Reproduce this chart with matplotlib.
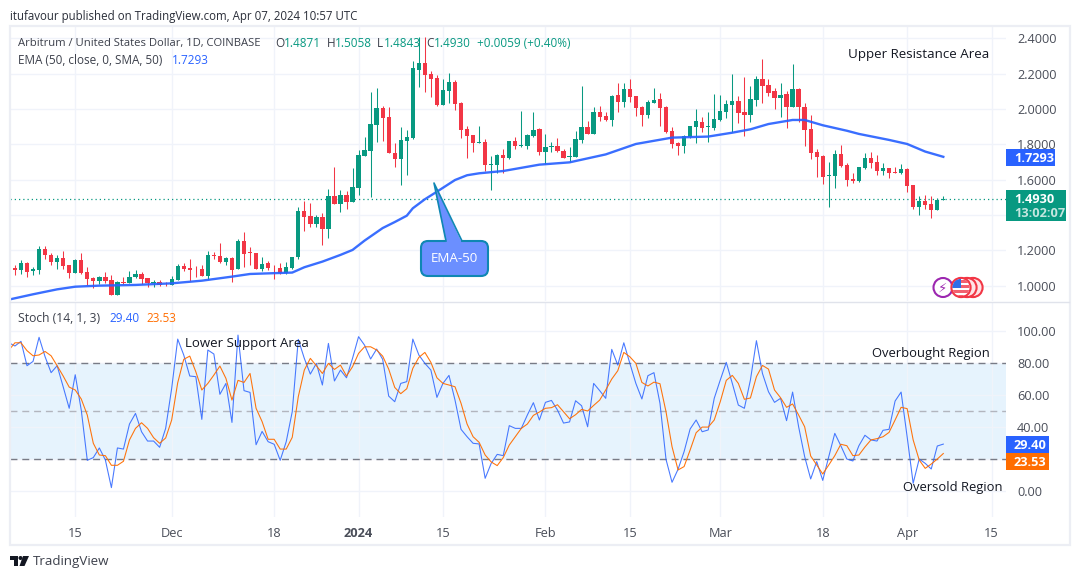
import numpy as np
import pandas as pd
import matplotlib
matplotlib.use("Agg")
import matplotlib.pyplot as plt
import matplotlib.dates as mdates
from matplotlib.patches import Circle, FancyBboxPatch, Polygon, Rectangle

plt.rcParams['font.family'] = ['Open Sans', 'DejaVu Sans']

dates = pd.date_range('2023-11-04', '2024-04-07', freq='D')

opens = [1.055,1.100,1.089,1.130,1.085,1.089,1.208,1.174,1.134,1.157,1.115,1.070,1.143,1.077,1.043,1.026,1.049,1.032,.949,1.019,1.015,1.049,1.066,1.042,1.013,1.021,1.011,
1.006,1.034,1.111,1.100,1.096,1.094,1.055,1.174,1.168,1.134,1.157,1.094,1.253,1.189,1.185,1.094,1.128,1.108,1.100,1.070,1.100,1.160,1.423,1.394,1.349,1.387,1.321,1.508,1.462,1.511,1.475,
1.555,1.736,1.764,1.911,2.006,1.955,1.749,1.719,1.821,1.836,2.221,2.260,2.198,2.176,2.025,2.104,2.153,2.034,1.887,1.853,1.810,1.814,1.685,1.685,1.740,1.723,1.819,1.791,1.791,1.847,1.887,
1.757,1.785,1.791,1.764,1.730,1.728,1.825,1.898,1.859,1.983,1.960,1.938,2.079,2.040,2.113,2.074,2.013,1.966,2.036,2.057,2.013,1.876,1.808,1.791,1.840,1.898,1.927,1.900,1.892,
1.938,1.983,2.023,2.045,1.983,1.966,2.051,2.170,2.136,2.102,2.062,2.085,2.011,2.113,2.011,1.887,1.757,1.734,1.621,1.621,1.745,1.683,1.604,1.591,1.666,1.723,1.700,1.649,1.666,1.643,1.638,
1.660,1.570,1.445,1.479,1.462,1.428,1.4871]
highs = [1.108,1.115,1.143,1.136,1.108,1.225,1.225,1.187,1.172,1.196,1.115,1.149,1.183,1.104,1.051,1.055,1.077,1.058,1.026,1.051,1.085,1.087,1.075,1.042,1.032,1.032,1.021,
1.055,1.123,1.126,1.151,1.113,1.117,1.194,1.192,1.242,1.164,1.164,1.266,1.304,1.217,1.185,1.162,1.140,1.117,1.126,1.134,1.164,1.445,1.479,1.466,1.400,1.409,1.545,1.674,1.542,1.538,1.668,
1.768,1.844,2.096,2.119,2.017,2.011,1.806,1.896,1.881,2.274,2.410,2.410,2.215,2.193,2.168,2.206,2.164,2.042,1.904,1.853,1.904,1.833,1.736,1.743,1.774,1.819,1.844,1.991,1.859,1.983,1.892,
1.859,1.815,1.836,1.774,1.785,1.877,2.130,1.932,2.013,2.017,1.983,2.079,2.145,2.145,2.170,2.074,2.017,2.051,2.117,2.091,2.017,1.900,1.813,1.853,1.904,2.000,1.957,1.983,2.085,
2.079,2.051,2.198,2.074,2.183,2.130,2.187,2.283,2.170,2.119,2.147,2.104,2.255,2.119,2.032,1.966,1.774,1.740,1.700,1.768,1.796,1.693,1.638,1.672,1.751,1.757,1.740,1.694,1.666,1.672,1.689,
1.666,1.570,1.508,1.513,1.508,1.496,1.5058]
lows = [1.051,1.060,1.066,1.051,1.060,1.066,1.149,1.117,1.096,1.096,1.043,1.070,1.066,1.004,.989,1.009,1.017,.949,.949,1.011,1.013,1.045,1.009,.994,.991,1.000,.998,
1.004,1.032,1.085,1.028,1.051,1.055,1.038,1.153,1.126,1.117,1.023,1.092,1.108,1.117,1.094,1.085,1.089,1.040,1.066,1.066,1.092,1.149,1.309,1.334,1.334,1.230,1.272,1.462,1.419,1.434,1.475,
1.513,1.734,1.504,1.815,1.821,1.749,1.670,1.572,1.628,1.832,2.126,2.098,2.070,2.017,2.023,2.032,1.994,1.836,1.725,1.757,1.806,1.651,1.542,1.636,1.638,1.715,1.772,1.787,1.772,1.844,1.740,
1.689,1.759,1.759,1.721,1.702,1.728,1.806,1.859,1.859,1.932,1.932,1.904,1.983,2.013,2.042,1.960,1.904,1.947,2.032,1.904,1.862,1.781,1.740,1.749,1.836,1.808,1.870,1.813,1.881,
1.932,1.947,1.872,1.919,1.847,1.927,2.017,2.032,2.074,2.000,1.957,1.892,2.011,1.928,1.791,1.717,1.615,1.576,1.445,1.553,1.672,1.564,1.581,1.587,1.662,1.664,1.626,1.626,1.609,1.636,1.632,
1.530,1.434,1.400,1.434,1.383,1.428,1.4843]
closes = [1.100,1.089,1.128,1.077,1.096,1.208,1.172,1.134,1.157,1.111,1.070,1.143,1.070,1.040,1.028,1.049,1.026,.949,1.019,1.015,1.047,1.064,1.038,1.013,1.021,1.004,1.008,
1.038,1.111,1.094,1.091,1.092,1.055,1.174,1.170,1.134,1.157,1.091,1.253,1.179,1.185,1.094,1.121,1.100,1.104,1.070,1.104,1.160,1.423,1.389,1.349,1.387,1.321,1.508,1.464,1.513,1.475,1.559,
1.740,1.768,1.915,2.006,1.951,1.753,1.719,1.825,1.842,2.232,2.260,2.194,2.172,2.023,2.108,2.153,2.030,1.883,1.849,1.810,1.814,1.683,1.689,1.740,1.723,1.819,1.791,1.794,1.853,1.881,1.757,
1.785,1.791,1.762,1.723,1.734,1.830,1.898,1.859,1.983,1.955,1.938,2.074,2.040,2.113,2.068,2.006,1.966,2.040,2.051,2.006,1.872,1.802,1.791,1.847,1.904,1.932,1.895,1.904,1.943,
1.989,2.028,2.045,1.977,1.966,2.057,2.170,2.130,2.091,2.062,2.079,2.011,2.113,2.011,1.881,1.751,1.728,1.615,1.627,1.745,1.677,1.598,1.593,1.672,1.723,1.695,1.649,1.666,1.638,1.640,1.660,
1.564,1.445,1.479,1.457,1.428,1.485,1.4930]

ema_days = [0,4,8,11,15,21,27,32,37,40,47,49,52,55,57,59,62,64,66,67,69,71,74,76,78,82,88,93,99,104,110,116,120,123,126,130,132,135,139,141,146,149,152,155]
ema_vals = [.921,.951,.979,.994,1.000,1.004,1.013,1.028,1.051,1.066,1.074,1.104,1.136,1.174,1.202,1.255,1.326,1.360,1.396,1.438,1.489,1.532,1.598,1.625,1.636,1.649,1.685,1.698,1.743,1.802,1.838,1.844,1.866,1.885,1.915,1.938,1.938,1.908,1.877,1.859,1.825,1.802,1.759,1.7293]

stoch_k = [92.5,90.5,93.4,78.2,80.9,95.9,83.8,73.9,78.2,65.1,51.7,72.6,50.6,19.3,21,27,19.5,2.3,27,26.3,41.9,48.5,37.1,31.3,31.3,27.4,39.2,64.1,94.8,84.9,71.8,71.4,44.8,88,85.5,60.4,67.2,42.9,97.3,62.7,61.6,29,37.3,30.9,29.3,19.3,30.9,49.6,94.6,82.8,73,79.7,66.2,92.1,68.7,75.5,70.7,82.8,96.3,
91,82.4,88.6,82.2,59.3,55.8,67.2,68.3,94.8,84.9,79.7,75.5,58.5,67.2,72.2,56.8,38.6,34,29.9,29.5,8.1,17.4,23,22.2,40.9,39.2,39.2,47.5,55.2,44.4,55.4,56.6,50.6,42.5,43.2,56.4,53.3,40.2,67.2,62.7,57.9,88.4,78.6,92.5,79.7,67.2,57.5,72,73.9,54.8,19.9,5.6,13.7,24.7,38.8,44.4,37.1,38.2,
57.9,69.3,80.3,67.2,53.7,51.7,69.3,93.8,73.4,62,55.4,57.9,44,61.8,40.2,21.6,7.7,18.5,6.8,21.6,36.1,28.4,20.1,18.9,28.4,34.9,32,31.3,38,38.6,56.2,61.8,34,5,20.1,17.4,13.9,28.2,29.4]
stoch_d = [88,92.5,92.5,87.6,84.4,84.9,87.1,84.4,78.2,71.8,64.9,63.1,57.5,47.5,29.9,22.6,22.2,16.2,16.2,18.7,32,39.2,42.7,39.2,33.4,29.9,33.2,44.4,67.6,82.2,84.2,74.5,63.1,67.2,72.4,78,70.3,56.8,69.1,67.8,73.4,51.7,43.4,32.4,32.4,26.3,26.3,33.6,58.9,75.5,82.8,78.2,73.4,79.7,75.9,78.6,71.8,77.6,85.9,
90,90,88,84.2,76.1,64.7,60.8,63.9,76.6,83.4,86.5,80.3,70.7,67.2,66.2,65.1,54.8,41.9,34,30.5,22.6,18.3,16,21,28.8,34,39.2,41.9,47.3,49.4,51.7,52.1,53.9,49.6,45.2,47.7,51,50,53.5,56.8,63.1,69.9,75.1,86.5,83.8,79.7,67.8,65.6,68,67,49.6,27.8,13.3,15.4,25.7,36.5,40,40,
44.4,55.8,69.1,72.2,67.2,57.3,58.1,71.4,78.4,76.1,63.1,58.3,52.3,54.4,47.5,40.2,22,16.4,10.8,16.4,22.2,29.3,28.4,22.2,22.6,27.6,32,32.8,34,36.7,44.4,52.3,51.5,32,19.5,14.3,17,20.1,23.53]

price_ticks = [1.0, 1.2, 1.4, 1.6, 1.8, 2.0, 2.2, 2.4]
price_labels = ['1.0000', '1.2000', '', '1.6000', '1.8000', '2.0000', '2.2000', '2.4000']
stoch_ticks = [0, 20, 40, 60, 80, 100]
stoch_labels = ['0.00', '', '40.00', '60.00', '80.00', '100.00']
time_ticks = ['2023-11-15', '2023-12-01', '2023-12-18', '2024-01-01', '2024-01-15', '2024-02-01',
              '2024-02-15', '2024-03-01', '2024-03-18', '2024-04-01', '2024-04-15']
time_labels = ['15', 'Dec', '18', '2024', '15', 'Feb', '15', 'Mar', '18', 'Apr', '15']
last_price = 1.4930

GREEN, RED, BLUE, ORANGE = '#089981', '#f23645', '#2962ff', '#ff6d00'
GRID, BORDER, TXT = '#f0f3fa', '#eceef4', '#131722'
W, H = 1080, 579

fig = plt.figure(figsize=(W / 100, H / 100), dpi=100, facecolor='white')


def pane(x0, y0, x1, y1):
    return fig.add_axes([x0 / W, 1 - y1 / H, (x1 - x0) / W, (y1 - y0) / H])


xnum = mdates.date2num(dates)
x_left = xnum[0] + 0.18
x_right = xnum[0] + 165.4
tick_x = mdates.date2num(pd.to_datetime(time_ticks))

ax = pane(10, 26, 1006, 301)
ax2 = pane(10, 302, 1006, 517)
for a in (ax, ax2):
    a.set_xlim(x_left, x_right)
    for s in a.spines.values():
        s.set_visible(False)
    a.set_xticks(tick_x)
    a.grid(True, color=GRID, lw=1.0)
    a.set_axisbelow(True)
    a.tick_params(length=0, colors='#4a4e59', labelsize=9.2)
    a.yaxis.tick_right()
    a.patch.set_alpha(0)

# candles
o, h, l, c = map(np.array, (opens, highs, lows, closes))
cols = [GREEN if ci >= oi else RED for oi, ci in zip(o, c)]
ax.vlines(xnum, l, h, colors=cols, lw=0.75, zorder=2)
ax.bar(xnum, np.maximum(np.abs(c - o), 0.003), bottom=np.minimum(o, c), width=0.72,
       color=cols, linewidth=0, zorder=3)
ax.plot(xnum[np.array(ema_days)], ema_vals, color=BLUE, lw=1.7, zorder=4, solid_joinstyle='round', alpha=0.92)
ax.axhline(last_price, color=GREEN, lw=0.9, ls=(0, (1, 2.4)), zorder=1)
ax.set_ylim(0.913, 2.470)
ax.set_yticks(price_ticks)
ax.set_yticklabels(price_labels)
ax.tick_params(axis='y', pad=8)
ax.tick_params(axis='x', labelbottom=False)

# stochastic
ax2.set_ylim(-16, 117.9)
ax2.axhspan(20, 80, color='#2196f3', alpha=0.11, lw=0, zorder=0)
ax2.axhline(80, color='#787b86', lw=1.0, ls=(0, (5, 3.5)), zorder=1)
ax2.axhline(20, color='#787b86', lw=1.0, ls=(0, (5, 3.5)), zorder=1)
ax2.axhline(50, color='#b2b5be', lw=1.0, ls=(0, (5, 3.5)), zorder=1)
ax2.plot(xnum, stoch_k, color=BLUE, lw=0.78, zorder=3, alpha=0.85)
ax2.plot(xnum, stoch_d, color=ORANGE, lw=0.78, zorder=4, alpha=0.95)
ax2.set_yticks(stoch_ticks)
ax2.set_yticklabels(stoch_labels)
ax2.tick_params(axis='y', pad=8)
ax2.set_xticklabels(time_labels)
ax2.tick_params(axis='x', pad=7)
for t in ax2.get_xticklabels():
    if t.get_text() == '2024':
        t.set_fontweight('bold')

# overlay in pixel coordinates for the frame and the labels
ov = fig.add_axes([0, 0, 1, 1], zorder=10)
ov.set_xlim(0, W)
ov.set_ylim(H, 0)
ov.axis('off')
ov.patch.set_alpha(0)
ov.add_patch(Rectangle((9.5, 25.5), 1060, 519, fill=False, ec=BORDER, lw=1.6))
ov.plot([10, 1069], [301.5, 301.5], color='#e0e3eb', lw=1.0)


def T(x, y, s, size=8.8, color=TXT, ha='left', **kw):
    return ov.text(x, y + 1.3, s, fontsize=size, color=color, ha=ha, va='center', **kw)


T(10, 15, 'itufavour published on TradingView.com, Apr 07, 2024 10:57 UTC', 8.3, '#2a2e39')
T(18, 42, 'Arbitrum / United States Dollar, 1D, COINBASE', 8.15, '#3c404b')
for xl, lab, xv, val in [(275, 'O', 284, '1.4871'), (327, 'H', 335, '1.5058'),
                         (377, 'L', 384, '1.4843'), (426, 'C', 434, '1.4930')]:
    T(xl, 42, lab, 8.5, '#3c404b')
    T(xv, 42, val, 8.5, GREEN)
T(477, 42, '+0.0059 (+0.40%)', 8.5, GREEN)
T(18, 59, 'EMA (50, close, 0, SMA, 50)', 8.45, '#3c404b')
T(172, 59, '1.7293', 8.5, BLUE)
T(18, 317, 'Stoch (14, 1, 3)', 8.7, '#3c404b')
T(109, 317, '29.40', 8.5, BLUE)
T(146, 317, '23.53', 8.5, ORANGE)

T(848, 53, 'Upper Resistance Area', 9.6)
T(185, 342, 'Lower Support Area', 9.5)
T(872, 352, 'Overbought Region', 9.4)
T(903, 486, 'Oversold Region', 9.4)

# axis value tags
ov.add_patch(Rectangle((1006, 149), 49, 17, fc=BLUE, lw=0))
T(1014, 157, '1.7293', 9.2, 'white', fontweight='bold')
ov.add_patch(Rectangle((1006, 190), 60, 31, fc=GREEN, lw=0))
T(1014, 198, '1.4930', 9.2, 'white', fontweight='bold')
T(1014, 212.5, '13:02:07', 9.2, '#c4e6df', fontweight='bold')
ov.add_patch(Rectangle((1006, 436), 43, 17, fc=BLUE, lw=0))
T(1014, 444, '29.40', 9.2, 'white', fontweight='bold')
ov.add_patch(Rectangle((1006, 453), 43, 17, fc=ORANGE, lw=0))
T(1014, 461, '23.53', 9.2, 'white', fontweight='bold')

# EMA-50 callout
CALL_F, CALL_E = '#6b8fff', '#0f87b3'
ov.add_patch(FancyBboxPatch((426, 246), 57, 25, boxstyle='round,pad=5,rounding_size=7',
                            fc=CALL_F, ec=CALL_E, lw=1.5, zorder=5))
ov.add_patch(Polygon([(446, 243), (434, 183), (462, 243)], closed=True, fc=CALL_F, ec='none', zorder=6))
ov.plot([446, 434, 462], [241, 183, 241], color=CALL_E, lw=1.2, zorder=6)
ov.add_patch(Rectangle((447.5, 240), 13, 4, fc=CALL_F, lw=0, zorder=7))
T(454.5, 257.5, 'EMA-50', 9.6, 'white', ha='center', zorder=8)

# session / currency badges
for cx in (973, 967):
    ov.add_patch(Circle((cx, 287.5), 9.6, fc='#ffe3e6', ec='#f23645', lw=1.5, zorder=5))
ov.add_patch(Circle((943, 287.5), 9.5, fc='white', ec='#9c27b0', lw=1.5, zorder=5))
T(943, 286.5, '\u26a1', 9.5, '#9c27b0', ha='center', family=['DejaVu Sans'], zorder=6)
ov.add_patch(Circle((961, 287.5), 9.6, fc='white', ec='#f23645', lw=1.5, zorder=6))
clip = Circle((961, 287.5), 8.6, transform=ov.transData)
for yy in (280, 285, 290, 295):
    r = Rectangle((951, yy), 20, 2.5, fc='#f2606f', lw=0, zorder=7)
    ov.add_patch(r)
    r.set_clip_path(clip)
canton = Rectangle((951, 278), 10, 9.5, fc='#2f6fe8', lw=0, zorder=8)
ov.add_patch(canton)
canton.set_clip_path(clip)

# TradingView mark
ov.add_patch(Polygon([(10, 556), (18, 556), (18, 566), (14, 566), (14, 560), (10, 560)], closed=True, fc=TXT, lw=0))
ov.add_patch(Circle((20.5, 558), 2, fc=TXT, lw=0))
ov.add_patch(Polygon([(23, 556), (29, 556), (24.5, 566), (19.5, 566)], closed=True, fc=TXT, lw=0))
T(33, 560, 'TradingView', 9.6, '#3c404b')

fig.savefig('out.png', dpi=100, facecolor='white')
